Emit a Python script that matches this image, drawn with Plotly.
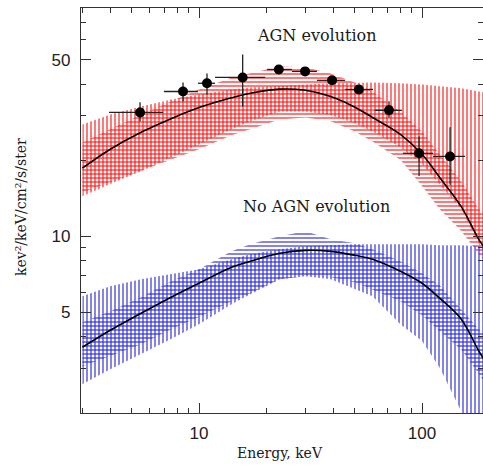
#!/usr/bin/env python3
"""
Cosmic X-ray background spectrum: AGN evolution vs no AGN evolution
"""

import numpy as np
import plotly.graph_objects as go

# Energy grid for model curves and bands (keV)
energy = [3, 4, 5.5, 7.5, 10, 14, 17, 23, 30, 39, 50, 60, 80, 100, 120, 150, 180, 200]

# AGN evolution model (red)
agn_model = [18.6, 22.1, 25.8, 29.2, 32.3, 35.3, 36.8, 38.2, 37.8, 35.7, 32.4, 29.5, 25.3, 21.1, 17.1, 13.1, 9.7, 8.5]
agn_h_upper = [23.5, 26.5, 30.3, 34.2, 38.1, 42.5, 44.1, 47.0, 46.6, 44.1, 40.6, 37.4, 31.2, 26.0, 21.1, 16.5, 12.8, 11.5]
agn_h_lower = [14.9, 16.3, 18.1, 20.1, 22.1, 25.1, 26.5, 29.0, 29.5, 28.5, 26.0, 23.7, 20.1, 15.8, 12.8, 10.5, 8.5, 7.7]
agn_v_upper = [27.7, 30.3, 32.6, 34.8, 36.4, 38.1, 38.8, 39.5, 39.9, 40.3, 40.6, 40.6, 40.3, 39.9, 39.2, 38.5, 37.4, 36.7]
agn_v_lower = [14.4, 16.1, 18.1, 20.5, 23.1, 26.5, 28.5, 31.2, 31.2, 30.1, 28.0, 26.0, 22.5, 19.3, 16.1, 12.8, 9.3, 8.1]

# No AGN evolution model (blue)
noagn_model = [3.64, 4.25, 4.96, 5.74, 6.52, 7.54, 7.96, 8.57, 8.80, 8.72, 8.41, 8.11, 7.27, 6.52, 5.69, 4.70, 3.51, 3.03]
noagn_h_upper = [4.57, 5.05, 5.74, 6.64, 7.41, 8.72, 9.30, 10.0, 10.47, 9.73, 9.38, 8.89, 7.96, 7.14, 6.40, 5.15, 4.29, 3.92]
noagn_h_lower = [3.06, 3.36, 3.74, 4.29, 4.79, 5.54, 5.95, 6.76, 6.95, 6.89, 6.58, 6.17, 5.54, 4.87, 4.21, 3.57, 2.85, 2.48]
noagn_v_upper = [5.79, 6.34, 6.76, 7.08, 7.41, 8.11, 8.49, 8.89, 9.13, 9.21, 9.30, 9.30, 9.30, 9.30, 9.21, 9.21, 9.13, 9.13]
noagn_v_lower = [2.60, 2.98, 3.42, 3.92, 4.49, 5.38, 5.90, 6.76, 6.95, 6.76, 6.17, 5.79, 4.49, 3.85, 3.03, 2.03, 1.58, 1.44]

# Measured points
data_e = [5.44, 8.48, 10.86, 15.7, 22.8, 29.9, 39.5, 52.1, 71.1, 97.0, 133.6]
data_e_lo = [3.95, 6.96, 9.9, 11.8, 20.2, 26.1, 33.8, 45.2, 61.5, 82.2, 112]
data_e_hi = [6.90, 9.90, 11.8, 19.8, 26.1, 33.8, 45.2, 60.3, 81.3, 112, 156]
data_f = [30.9, 37.4, 40.3, 42.5, 45.7, 44.9, 41.4, 38.1, 31.5, 21.3, 20.7]
data_f_lo = [28.5, 34.2, 36.4, 32.6, 44.5, 43.9, 40.4, 37.2, 29.5, 17.3, 16.0]
data_f_hi = [33.9, 40.6, 44.1, 52.4, 47.0, 46.0, 42.4, 39.0, 34.2, 24.8, 27.0]

x_major = [10, 100]
x_minor = [3, 4, 5, 6, 7, 8, 9, 20, 30, 40, 50, 60, 70, 80, 90, 200]
y_major = [5, 10, 50]
y_minor = [2, 3, 4, 6, 7, 8, 9, 20, 30, 40, 60, 70, 80]

RED = "#ff1a1a"
BLUE = "#2f2fdc"


def band(upper, lower, color, shape):
    return go.Scatter(
        x=energy + energy[::-1],
        y=upper + lower[::-1],
        fill="toself",
        mode="lines",
        line=dict(width=0),
        fillcolor="rgba(0,0,0,0)",
        fillpattern=dict(shape=shape, fgcolor=color, fgopacity=0.85, bgcolor="rgba(0,0,0,0)",
                         size=4, solidity=0.35),
        hoverinfo="skip",
        showlegend=False,
    )


fig = go.Figure()

# hatched uncertainty bands
fig.add_trace(band(agn_v_upper, agn_v_lower, RED, "|"))
fig.add_trace(band(agn_h_upper, agn_h_lower, RED, "-"))
fig.add_trace(band(noagn_v_upper, noagn_v_lower, BLUE, "|"))
fig.add_trace(band(noagn_h_upper, noagn_h_lower, BLUE, "-"))

# model curves
for model in (agn_model, noagn_model):
    fig.add_trace(go.Scatter(
        x=energy, y=model, mode="lines",
        line=dict(color="black", width=1.6, shape="spline", smoothing=1.0),
        showlegend=False,
    ))

# data points with error bars
e = np.array(data_e)
f = np.array(data_f)
fig.add_trace(go.Scatter(
    x=data_e, y=data_f, mode="markers",
    marker=dict(color="black", size=10),
    error_x=dict(type="data", symmetric=False,
                 array=np.array(data_e_hi) - e, arrayminus=e - np.array(data_e_lo),
                 color="#222", thickness=1.3, width=0),
    error_y=dict(type="data", symmetric=False,
                 array=np.array(data_f_hi) - f, arrayminus=f - np.array(data_f_lo),
                 color="#222", thickness=1.3, width=0),
    showlegend=False,
))

tick_font = dict(family="Liberation Sans, Arial, sans-serif", size=17, color="#222")
serif = "DejaVu Serif, serif"
label_font = dict(family=serif, size=14, color="#1a1a1a")
inset_font = dict(family=serif, size=16, color="#1a1a1a")

fig.update_xaxes(
    type="log", range=[0.4709, 2.2735],
    tickvals=x_major, ticktext=["10", "100"],
    ticks="inside", ticklen=10, tickwidth=1.2, tickcolor="#333",
    minor=dict(tickvals=x_minor, ticks="inside", ticklen=5, tickwidth=1.2, tickcolor="#333"),
    showline=True, linecolor="#333", linewidth=1.3, mirror="ticks",
    showgrid=False, zeroline=False, tickfont=tick_font, ticklabelstandoff=4,
)
fig.update_yaxes(
    type="log", range=[np.log10(2.0), np.log10(80)],
    tickvals=y_major, ticktext=["5", "10", "50"],
    ticks="inside", ticklen=10, tickwidth=1.2, tickcolor="#333",
    minor=dict(tickvals=y_minor, ticks="inside", ticklen=5, tickwidth=1.2, tickcolor="#333"),
    showline=True, linecolor="#333", linewidth=1.3, mirror="ticks",
    showgrid=False, zeroline=False, tickfont=tick_font, ticklabelstandoff=6,
)

common = dict(xref="paper", yref="paper", xanchor="center", yanchor="middle", showarrow=False)
fig.update_layout(
    width=483, height=465,
    margin=dict(l=81, r=0, t=8, b=52),
    plot_bgcolor="white", paper_bgcolor="white",
    showlegend=False,
    annotations=[
        dict(text="AGN evolution", x=0.587, y=0.932, font=inset_font, **common),
        dict(text="No AGN evolution", x=0.587, y=0.511, font=inset_font, **common),
        dict(text="Energy, keV", x=0.495, y=-0.099, font=label_font, **common),
        dict(text="kev²/keV/cm²/s/ster", x=-0.149, y=0.509, textangle=-90,
             font=label_font, **common),
    ],
)

# drop the default page margin so the figure sits at the window origin
fig.write_html("out.html", config={"displayModeBar": False},
               post_script="document.body.style.margin='0';")
print("OK: figure written to out.html")
